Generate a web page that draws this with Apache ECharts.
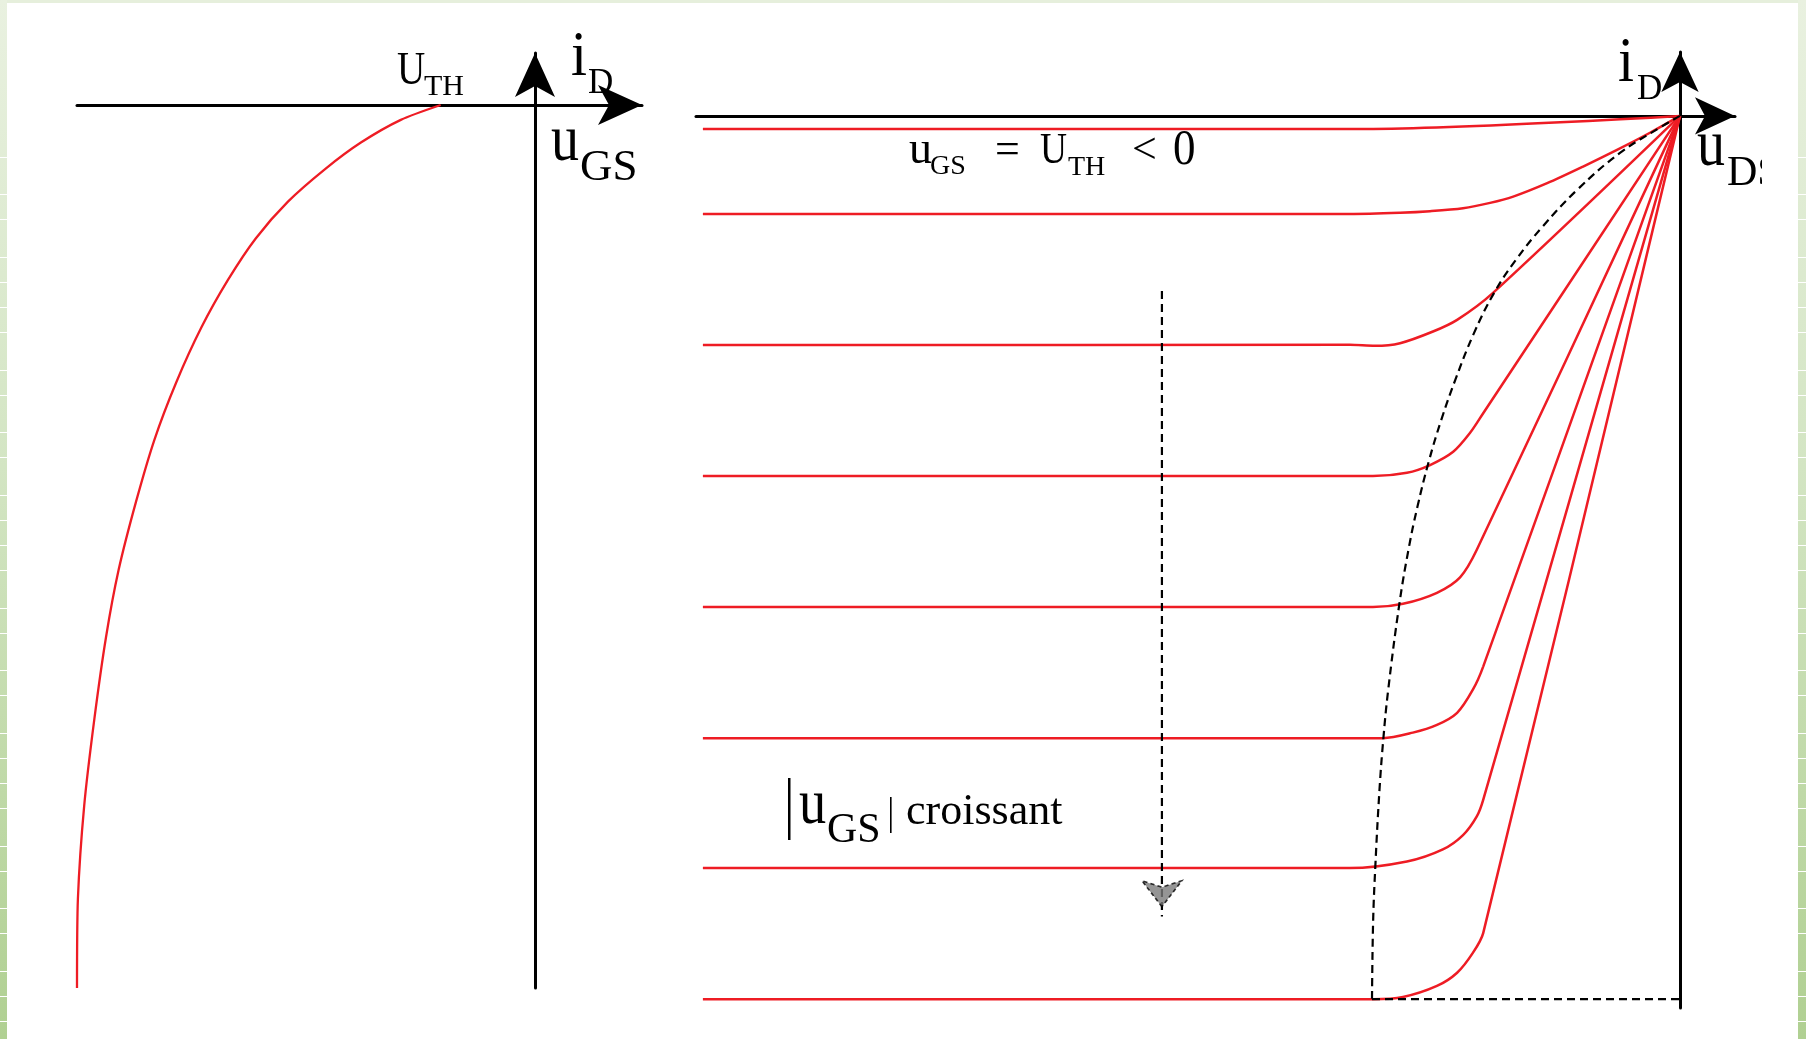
<!DOCTYPE html>
<html>
<head>
<meta charset="utf-8">
<script src="https://cdn.jsdelivr.net/npm/echarts/dist/echarts.min.js"></script>
<style>
  html, body { margin: 0; padding: 0; background: #ffffff; }
  #chart { width: 1806px; height: 1039px; }
</style>
</head>
<body>
<div id="chart"></div>
<script>
// ---- Transfer characteristic i_D = f(u_GS), p-channel enhancement MOSFET ----
const U_TH = -1.03;
const transferUgs = [U_TH, -1.465, -1.905, -2.295, -2.697, -3.049, -3.352, -3.640, -3.917, -4.156, -4.357, -4.546, -4.683, -4.810, -4.922, -4.99, -5.0];
const transferId  = [0, -0.168, -0.428, -0.728, -1.094, -1.511, -1.981, -2.515, -3.142, -3.794, -4.498, -5.267, -6.025, -6.950, -7.942, -8.986, -10.0];

// ---- Output characteristics i_D = f(u_DS), one curve per gate voltage ----
const outCurve1 = [[-19.86, -0.12], [-6.57, -0.12], [0, 0]];
const outCurve2 = [[-19.86, -0.89], [-6.71, -0.89], [-5.69, -0.879], [-5.08, -0.865], [-4.41, -0.838], [-3.86, -0.79], [-3.39, -0.733], [-2.70, -0.611], [-1.97, -0.46], [-1.28, -0.309], [-0.61, -0.153], [0, 0]];
const outCurve3 = [[-19.86, -2.08], [-6.71, -2.079], [-6.20, -2.088], [-5.69, -2.064], [-5.02, -1.958], [-4.53, -1.852], [-3.80, -1.607], [0, 0]];
const outCurve4 = [[-19.86, -3.27], [-6.24, -3.27], [-5.55, -3.24], [-5.08, -3.17], [-4.61, -3.05], [-4.27, -2.88], [-4.00, -2.70], [0, 0]];
const outCurve5 = [[-19.86, -4.46], [-6.24, -4.46], [-5.63, -4.43], [-4.94, -4.33], [-4.47, -4.19], [-4.13, -3.94], [0, 0]];
const outCurve6 = [[-19.86, -5.65], [-6.04, -5.65], [-5.43, -5.60], [-4.94, -5.53], [-4.53, -5.42], [-4.21, -5.21], [-4.00, -5.00], [0, 0]];
const outCurve7 = [[-19.86, -6.83], [-6.71, -6.83], [-5.55, -6.77], [-4.82, -6.66], [-4.41, -6.53], [-4.13, -6.36], [-4.00, -6.21], [0, 0]];
const outCurve8 = [[-19.86, -8.02], [-6.24, -8.02], [-5.63, -8.00], [-4.94, -7.90], [-4.53, -7.78], [-4.21, -7.60], [-4.00, -7.42], [0, 0]];
const outputCurves = [outCurve1, outCurve2, outCurve3, outCurve4, outCurve5, outCurve6, outCurve7, outCurve8];

// Boundary between ohmic and saturation regions
const pinchOff = [[-6.26, -8.017], [-6.238, -7.327], [-6.193, -6.819], [-6.108, -6.120], [-6.028, -5.647], [-5.931, -5.212],
  [-5.701, -4.422], [-5.508, -3.913], [-5.337, -3.550], [-5.108, -3.141], [-4.852, -2.760], [-4.567, -2.397], [-4.185, -1.970],
  [-3.778, -1.607], [-3.335, -1.307], [-2.799, -1.008], [-2.091, -0.672], [-1.220, -0.336], [-0.386, -0.100], [0, 0]];
const pinchOffBase = [[-6.26, -8.02], [0, -8.02]];

// Arrow showing increasing |u_GS|
const sweepArrow = [[-10.53, -1.59], [-10.53, -7.27]];
const sweepArrowHead = [[-10.53, -7.18]];

const RED = '#ee1c24';
const SERIF = '"Liberation Serif", "DejaVu Serif", serif';

const chart = echarts.init(document.getElementById('chart'), null, { renderer: 'canvas' });

function axisArrow(len, wid) {
  return {
    show: true,
    onZero: true,
    symbol: ['none', 'arrow'],
    symbolSize: [wid, len],
    lineStyle: { color: '#000', width: 3 }
  };
}
function plainAxis(extra) {
  return Object.assign({
    type: 'value',
    axisTick: { show: false },
    axisLabel: { show: false },
    splitLine: { show: false }
  }, extra);
}

const series = [];
series.push({
  type: 'line', xAxisIndex: 0, yAxisIndex: 0, clip: false,
  data: transferUgs.map((u, i) => [u, transferId[i]]),
  showSymbol: false, smooth: 0.25,
  lineStyle: { color: RED, width: 2.3 }, z: 3
});
outputCurves.forEach(c => series.push({
  type: 'line', xAxisIndex: 1, yAxisIndex: 1, clip: false,
  data: c, showSymbol: false, smooth: 0.3,
  lineStyle: { color: RED, width: 2.5 }, z: 3
}));
series.push({
  type: 'line', xAxisIndex: 1, yAxisIndex: 1, clip: false,
  data: pinchOff, showSymbol: false, smooth: 0.4,
  lineStyle: { color: '#000', width: 2.2, type: [8, 5] }, z: 4
});
series.push({
  type: 'line', xAxisIndex: 1, yAxisIndex: 1, clip: false,
  data: pinchOffBase, showSymbol: false,
  lineStyle: { color: '#000', width: 2.2, type: [8, 5] }, z: 4
});
series.push({
  type: 'line', xAxisIndex: 1, yAxisIndex: 1, clip: false,
  data: sweepArrow, showSymbol: false,
  lineStyle: { color: '#000', width: 2.2, type: [8, 5] }, z: 4
});
series.push({
  type: 'scatter', xAxisIndex: 1, yAxisIndex: 1, clip: false,
  data: sweepArrowHead, symbol: 'arrow', symbolRotate: 180, symbolSize: [30, 26],
  itemStyle: { color: '#7a7a7a', borderColor: '#000', borderWidth: 1.6, borderType: [4, 3] }, z: 5
});

// frame decoration: pale green border strips with tile joints
function strip(x, w) {
  const els = [{
    type: 'rect', shape: { x: x, y: 0, width: w, height: 1039 }, silent: true, z: 0,
    style: { fill: new echarts.graphic.LinearGradient(0, 0, 0, 1, [
      { offset: 0, color: '#e9f1e0' }, { offset: 0.45, color: '#d3e5c3' }, { offset: 1, color: '#b0d092' }]) }
  }];
  const steps = [37, 25, 38, 25, 25, 25, 38, 25];
  let y = 157, k = 0;
  while (y < 1039) {
    els.push({ type: 'rect', shape: { x: x, y: y, width: w, height: 1 }, silent: true, z: 1, style: { fill: '#ffffff' } });
    y += steps[k % steps.length]; k++;
  }
  return els;
}

function label(text, x, base, size, extra) {
  return Object.assign({
    type: 'text', x: x, y: base - 0.3375 * size, silent: true, z: 10,
    style: { text: text, font: size + 'px ' + SERIF, fill: '#000', verticalAlign: 'middle', align: 'left' }
  }, extra || {});
}

const graphics = []
  .concat([{ type: 'rect', shape: { x: 0, y: 0, width: 1806, height: 3 }, silent: true, z: 0, style: { fill: '#e6efdc' } }])
  .concat(strip(0, 7))
  .concat(strip(1798, 8))
  .concat([
    // transfer characteristic
    label('U', 397, 87, 46, { scaleX: 0.85 }),
    label('TH', 424, 97, 30),
    label('i', 571, 80, 64, { scaleX: 0.9 }),
    label('D', 588, 96, 35),
    label('u', 551, 165, 66, { scaleX: 0.85 }),
    label('GS', 580, 183, 45),
    // output characteristics
    label('i', 1618, 86, 64, { scaleX: 0.9 }),
    label('D', 1637, 102, 35),
    label('u', 1697, 170, 66, { scaleX: 0.85 }),
    label('DS', 1727, 188, 42),
    { type: 'rect', shape: { x: 1762, y: 140, width: 35, height: 60 }, silent: true, z: 11, style: { fill: '#fff' } },
    label('u', 909, 166, 46),
    label('GS', 930, 176, 28),
    label('=', 995, 166, 44),
    label('U', 1040, 166, 44, { scaleX: 0.85 }),
    label('TH', 1068, 177, 28),
    label('<', 1132, 166, 44),
    label('0', 1173, 168, 50, { scaleX: 0.9 }),
    // |u_GS| croissant
    { type: 'rect', shape: { x: 788, y: 778, width: 2.5, height: 62 }, silent: true, z: 10, style: { fill: '#000' } },
    label('u', 799, 828, 64, { scaleX: 0.85 }),
    label('GS', 827, 845, 42),
    { type: 'rect', shape: { x: 890, y: 797, width: 1.6, height: 36 }, silent: true, z: 10, style: { fill: '#000' } },
    label('croissant', 906, 827, 44)
  ]);

chart.setOption({
  animation: false,
  backgroundColor: '#ffffff',
  grid: [
    { left: 77, top: 53, width: 565, height: 935, containLabel: false, outerBoundsMode: 'none' },
    { left: 696, top: 52, width: 1039, height: 956, containLabel: false, outerBoundsMode: 'none' }
  ],
  xAxis: [
    plainAxis({ gridIndex: 0, min: -5, max: 1.168, axisLine: axisArrow(44, 30) }),
    plainAxis({ gridIndex: 1, min: -20, max: 1.118, axisLine: axisArrow(40, 28) })
  ],
  yAxis: [
    plainAxis({ gridIndex: 0, min: -10, max: 0.589, axisLine: axisArrow(44, 30) }),
    plainAxis({ gridIndex: 1, min: -8.1, max: 0.58, axisLine: axisArrow(40, 28) })
  ],
  series: series,
  graphic: graphics
});
</script>
</body>
</html>
